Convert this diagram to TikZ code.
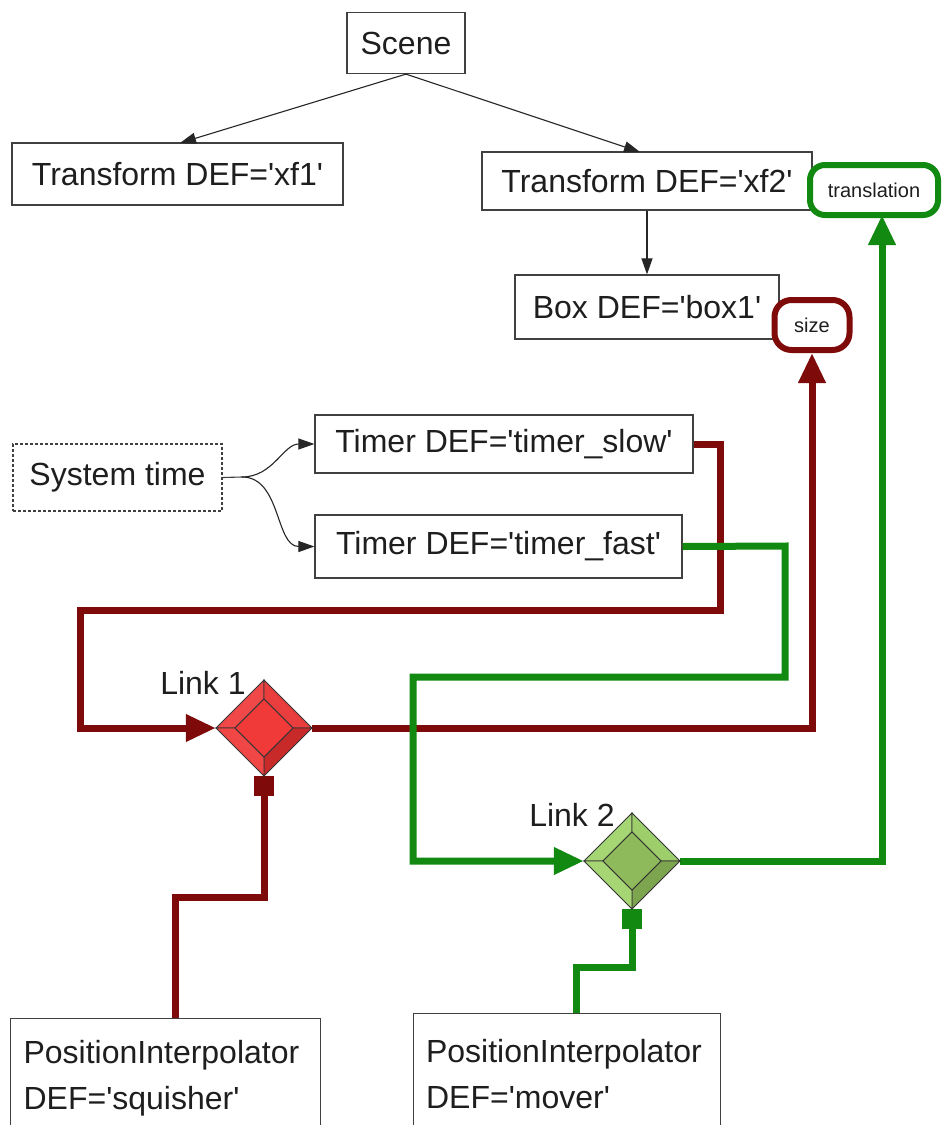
\documentclass[tikz,border=0pt]{standalone}
\usepackage{fontspec}
\setmainfont{Liberation Sans}
\usetikzlibrary{arrows.meta,shapes.geometric,calc}
\definecolor{txt}{HTML}{1E1E1E}
\definecolor{dred}{HTML}{7E0A0A}
\definecolor{dgreen}{HTML}{128A12}
\definecolor{rTL}{HTML}{F04848}
\definecolor{rTR}{HTML}{EA3E3E}
\definecolor{rBR}{HTML}{C82A2A}
\definecolor{rBL}{HTML}{F04646}
\definecolor{rIN}{HTML}{F03A3A}
\definecolor{gTL}{HTML}{A6D674}
\definecolor{gTR}{HTML}{9ECE6C}
\definecolor{gBR}{HTML}{7DA44E}
\definecolor{gBL}{HTML}{A6D674}
\definecolor{gIN}{HTML}{8EBA5C}
\newcommand\sq{\textquotesingle}
\newcommand\BevelDiamond[6]{%
\begin{scope}[shift={#1}]
\path[fill=#2,draw=black!80,line width=0.8pt] (-48,0) -- (0,-48) -- (0,-29) -- (-29,0) -- cycle;
\path[fill=#3,draw=black!80,line width=0.8pt] (0,-48) -- (48,0) -- (29,0) -- (0,-29) -- cycle;
\path[fill=#4,draw=black!80,line width=0.8pt] (48,0) -- (0,48) -- (0,29) -- (29,0) -- cycle;
\path[fill=#5,draw=black!80,line width=0.8pt] (0,48) -- (-48,0) -- (-29,0) -- (0,29) -- cycle;
\path[fill=#6,draw=black!80,line width=0.8pt] (-29,0) -- (0,-29) -- (29,0) -- (0,29) -- cycle;
\end{scope}}
\begin{document}
\begin{tikzpicture}[x=1pt,y=-1pt,
  every node/.style={text=txt,font=\fontsize{32}{46}\selectfont},
  boxnode/.style={draw=black!75,line width=1.2pt,fill=white,inner sep=0pt},
  roundred/.style={draw=dred,line width=6pt,rounded corners=17pt,fill=white,inner sep=0pt,font=\fontsize{20}{24}\selectfont},
  roundgreen/.style={draw=dgreen,line width=6pt,rounded corners=15pt,fill=white,inner sep=0pt,font=\fontsize{20}{24}\selectfont},
  thinarrow/.style={draw=black!85,line width=1.1pt,-{Triangle[length=16pt,width=11pt]}},
  redline/.style={draw=dred,line width=7pt},
  greenline/.style={draw=dgreen,line width=7pt},
  bigtip/.style={-{Triangle[length=30pt,width=26pt]}},
  sqtip/.style={-{Square[length=20pt,width=20pt]}}
]
\useasboundingbox[fill=white] (0,0) rectangle (945,1125);
\clip (0,0) rectangle (945,1125);

% nodes
\node[boxnode,minimum width=118pt,minimum height=61pt] (scene) at (406,43) {Scene};
\node[boxnode,minimum width=331pt,minimum height=62pt] (xf1) at (177.5,174) {Transform DEF=\sq xf1\sq};
\node[boxnode,minimum width=330pt,minimum height=58pt] (xf2) at (647,181) {Transform DEF=\sq xf2\sq};
\node[roundgreen,minimum width=128pt,minimum height=50pt] (trans) at (874,190) {translation};
\node[boxnode,minimum width=264pt,minimum height=64pt] (box1) at (647,307) {Box DEF=\sq box1\sq};
\node[roundred,minimum width=75pt,minimum height=50pt] (size) at (812,325) {size};
\node[boxnode,dashed,dash pattern=on 3pt off 2pt,minimum width=209pt,minimum height=67pt] (sys) at (117.5,477.5) {System time};
\node[boxnode,minimum width=378pt,minimum height=58pt] (slow) at (504,444) {Timer DEF=\sq timer\_slow\sq};
\node[boxnode,minimum width=367pt,minimum height=63pt] (fast) at (498.5,546.5) {Timer DEF=\sq timer\_fast\sq};
\node[boxnode,anchor=north west,minimum width=310pt,minimum height=120pt,text width=284pt,align=left] (squisher) at (10,1018) {PositionInterpolator\\DEF=\sq squisher\sq};
\node[boxnode,anchor=north west,minimum width=307pt,minimum height=120pt,text width=282pt,align=left] (mover) at (413,1013) {PositionInterpolator\\DEF=\sq mover\sq};

% link diamonds (anchors)
\node[diamond,minimum width=96pt,minimum height=96pt,inner sep=0pt] (l1) at (264,728) {};
\node[diamond,minimum width=96pt,minimum height=96pt,inner sep=0pt] (l2) at (632,861) {};
\node (l1lab) at (203,683) {Link 1};
\node (l2lab) at (572,815) {Link 2};

% scene graph arrows
\draw[thinarrow] (scene.south) -- (180,143);
\draw[thinarrow] (scene.south) -- (640,152);
\draw[thinarrow] (xf2.south) -- (box1.north);
\coordinate (fork) at (242,477);
\draw[draw=black!75,line width=1.1pt] (sys.east) -- (fork);
\draw[thinarrow] (fork) to[out=0,in=180] (slow.west);
\draw[thinarrow] (fork) to[out=0,in=180] (fast.west);

% red route
\coordinate (r1) at (720,444);
\coordinate (r2) at (720,610);
\coordinate (r3) at (80,610);
\coordinate (r4) at (80,728);
\draw[redline,bigtip] (slow.east) -- (r1) -- (r2) -- (r3) -- (r4) -- (l1.west);
\coordinate (r5) at (812,728);
\draw[redline,bigtip] (l1.east) -- (r5) -- (size.south);
\coordinate (r6) at (175,1018);
\coordinate (r7) at (175,897);
\coordinate (r8) at (264,897);
\draw[redline,sqtip] (r6) -- (r7) -- (r8) -- (l1.south);

% green route
\coordinate (g1) at (785,546);
\coordinate (g2) at (785,677);
\coordinate (g3) at (413,677);
\coordinate (g4) at (413,861);
\draw[greenline,bigtip] (fast.east) -- (g1) -- (g2) -- (g3) -- (g4) -- (l2.west);
\coordinate (g5) at (882,861);
\coordinate (g6) at (882,215);
\draw[greenline,bigtip] (l2.east) -- (g5) -- (g6);
\coordinate (g7) at (576,1013);
\coordinate (g8) at (576,967);
\coordinate (g9) at (632,967);
\draw[greenline,sqtip] (g7) -- (g8) -- (g9) -- (l2.south);

% diamonds
\BevelDiamond{(264,728)}{rTL}{rTR}{rBR}{rBL}{rIN}
\BevelDiamond{(632,861)}{gTL}{gTR}{gBR}{gBL}{gIN}
\end{tikzpicture}
\end{document}
